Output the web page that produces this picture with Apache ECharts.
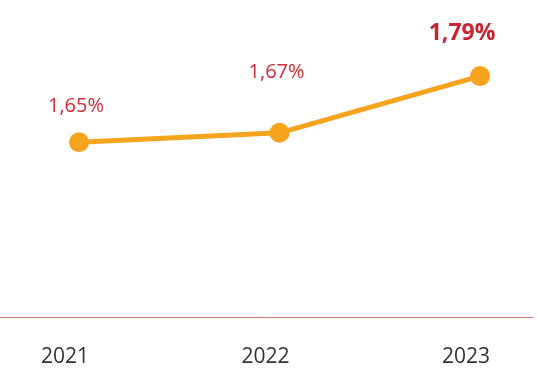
<!DOCTYPE html>
<html>
<head>
<meta charset="utf-8">
<script src="https://cdn.jsdelivr.net/npm/echarts@6/dist/echarts.min.js"></script>
<style>
    html, body { margin: 0; padding: 0; background: #fff; }
    #main { width: 537px; height: 378px; }
</style>
</head>
<body>
<div id="main"></div>
<script>
var years = [2021, 2022, 2023];
var rates = [1.65, 1.67, 1.79];

// label placement / emphasis for each point
var labelOffsets = [[-3, -16], [-3, -41], [-18, -21]];
var labelBold = [false, false, true];

var chart = echarts.init(document.getElementById('main'));

var points = [];
for (var i = 0; i < years.length; i++) {
    points.push({
        value: [years[i], rates[i]],
        label: {
            offset: [labelOffsets[i][0], 0],
            distance: -labelOffsets[i][1],
            fontWeight: labelBold[i] ? 'bold' : 'normal',
            fontSize: labelBold[i] ? 23 : 20,
            color: labelBold[i] ? '#C8232F' : '#D22C37'
        }
    });
}

var option = {
    animation: false,
    grid: {
        left: 0,
        right: 4,
        top: 10,
        bottom: 61
    },
    xAxis: {
        type: 'value',
        min: 2020.606,
        max: 2023.264,
        splitLine: { show: false },
        axisTick: { show: false },
        axisLine: {
            show: true,
            onZero: false,
            lineStyle: { color: '#C97779', width: 1 }
        },
        axisLabel: {
            customValues: years,
            formatter: function (v) { return String(v); },
            fontFamily: 'Open Sans',
            fontSize: 21,
            color: '#333',
            margin: 30,
            padding: [0, 28, 0, 0]
        }
    },
    yAxis: {
        type: 'value',
        min: 1.28,
        max: 1.93,
        show: false,
        splitLine: { show: false }
    },
    series: [{
        type: 'line',
        data: points,
        symbol: 'circle',
        symbolSize: 20,
        lineStyle: { color: '#F6A41E', width: 5 },
        itemStyle: { color: '#F6A41E' },
        label: {
            show: true,
            position: 'top',
            fontFamily: 'Open Sans',
            formatter: function (p) {
                return p.value[1].toFixed(2).replace('.', ',') + '%';
            }
        }
    }]
};

chart.setOption(option);
</script>
</body>
</html>
